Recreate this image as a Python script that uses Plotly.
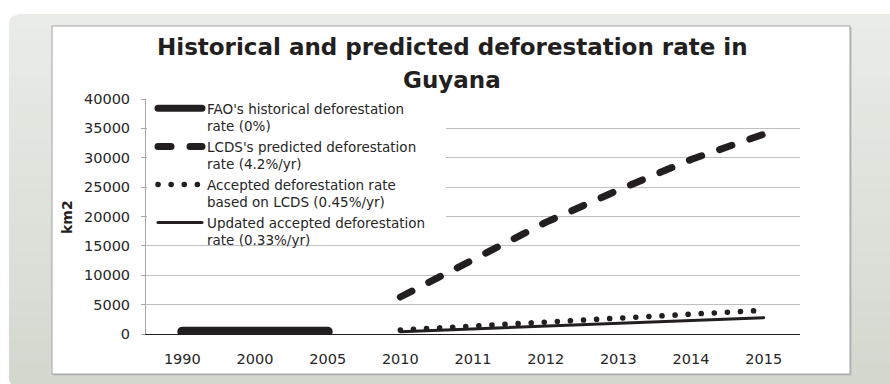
import math
import plotly.graph_objects as go

# ---------------- data ----------------
categories = ["1990", "2000", "2005", "2010", "2011", "2012", "2013", "2014", "2015"]
fao_hist = [400, 400, 400, None, None, None, None, None, None]
lcds_pred = [None, None, None, 6300, 12600, 19000, 24500, 29700, 34000]
accepted = [None, None, None, 680, 1330, 1980, 2650, 3330, 4050]
updated = [None, None, None, 380, 860, 1340, 1820, 2300, 2780]

series_names = [
    "FAO's historical deforestation<br>rate (0%)",
    "LCDS's predicted deforestation<br>rate (4.2%/yr)",
    "Accepted deforestation rate<br>based on LCDS (0.45%/yr)",
    "Updated accepted deforestation<br>rate (0.33%/yr)",
]
y_ticks = [0, 5000, 10000, 15000, 20000, 25000, 30000, 35000, 40000]
y_tick_labels = ["0", "5000", "10000", "15000", "20000", "25000", "30000", "35000", "40000"]
title_lines = ["Historical and predicted deforestation rate in", "Guyana"]
y_title = "km2"

# ---------------- layout geometry ----------------
W, H = 890, 384
L, R, T, B = 146, 90, 99, 50
PW, PH = W - L - R, H - T - B
INK = "#231f20"
FONT = "DejaVu Sans"


def px(x):
    return (x - L) / PW


def py(y):
    return (H - B - y) / PH


fig = go.Figure()
fig.add_trace(go.Scatter(x=categories, y=fao_hist, name=series_names[0], mode="lines",
                         line=dict(color=INK, width=10)))
fig.add_trace(go.Scatter(x=categories, y=lcds_pred, name=series_names[1], mode="lines",
                         line=dict(color=INK, width=7, dash="13px,19px")))
fig.add_trace(go.Scatter(x=categories, y=accepted, name=series_names[2], mode="lines",
                         line=dict(color=INK, width=5.5, dash="0.1px,13px")))
fig.add_trace(go.Scatter(x=categories, y=updated, name=series_names[3], mode="lines",
                         line=dict(color=INK, width=3)))

# background panel with vertical gradient (bands), rounded left corners
shapes = []
X0, Y0, Y1, RAD = 9, 14, 388, 10
top_c = (234, 236, 231)
bot_c = (211, 216, 207)
NB = 30


def left_x(y):
    if y < Y0 + RAD:
        d = Y0 + RAD - y
        return X0 + RAD - math.sqrt(max(RAD * RAD - d * d, 0))
    if y > Y1 - RAD:
        d = y - (Y1 - RAD)
        return X0 + RAD - math.sqrt(max(RAD * RAD - d * d, 0))
    return X0


for i in range(NB):
    ya = Y0 + (Y1 - Y0) * i / NB
    yb = Y0 + (Y1 - Y0) * (i + 1) / NB + 0.6
    t = i / (NB - 1)
    c = tuple(round(top_c[k] + (bot_c[k] - top_c[k]) * t) for k in range(3))
    pts = []
    steps = 6
    for s in range(steps + 1):
        yy = ya + (yb - ya) * s / steps
        pts.append((left_x(yy), yy))
    path = "M %f,%f " % (px(W + 5), py(ya))
    for (xx, yy) in pts:
        path += "L %f,%f " % (px(xx), py(yy))
    path += "L %f,%f Z" % (px(W + 5), py(yb))
    shapes.append(dict(type="path", xref="paper", yref="paper", path=path,
                       fillcolor="rgb(%d,%d,%d)" % c, line=dict(width=0), layer="below"))

# chart box shadow + box
shapes.append(dict(type="rect", xref="paper", yref="paper",
                   x0=px(53.5), x1=px(851.5), y0=py(375.5), y1=py(27.5),
                   fillcolor="#b9bcb7", line=dict(width=0), layer="below"))
shapes.append(dict(type="rect", xref="paper", yref="paper",
                   x0=px(52), x1=px(850), y0=py(374), y1=py(26),
                   fillcolor="white", line=dict(color="#a3a3a3", width=1), layer="below"))
# white backing behind the legend (hides gridlines there)
shapes.append(dict(type="rect", xref="paper", yref="paper",
                   x0=px(147), x1=px(446), y0=py(238), y1=py(100.5),
                   fillcolor="white", line=dict(width=0), layer="above"))

annotations = [
    dict(text="<b>%s</b>" % title_lines[0], xref="paper", yref="paper", x=px(452), y=py(47),
         xanchor="center", yanchor="middle", showarrow=False,
         font=dict(family=FONT, size=23, color=INK)),
    dict(text="<b>%s</b>" % title_lines[1], xref="paper", yref="paper", x=px(452), y=py(80),
         xanchor="center", yanchor="middle", showarrow=False,
         font=dict(family=FONT, size=23, color=INK)),
    dict(text="<b>%s</b>" % y_title, xref="paper", yref="paper", x=px(67), y=py(217),
         xanchor="center", yanchor="middle", showarrow=False, textangle=-90,
         font=dict(family=FONT, size=14, color=INK)),
]

fig.update_layout(
    width=W, height=H,
    margin=dict(l=L, r=R, t=T, b=B, pad=0),
    paper_bgcolor="white",
    plot_bgcolor="rgba(0,0,0,0)",
    font=dict(family=FONT, size=14.5, color="#262626"),
    shapes=shapes,
    annotations=annotations,
    showlegend=True,
    legend=dict(x=px(153), y=py(93), xanchor="left", yanchor="top",
                bgcolor="rgba(0,0,0,0)",
                borderwidth=0, valign="top", itemwidth=44, tracegroupgap=0,
                font=dict(family=FONT, size=13.5, color="#262626")),
    xaxis=dict(type="category", categoryorder="array", categoryarray=categories,
               range=[-0.5, len(categories) - 0.5], showgrid=False,
               showline=True, linecolor=INK, linewidth=1, ticks="",
               ticklabelstandoff=12, tickfont=dict(size=14.5), fixedrange=True),
    yaxis=dict(range=[0, 40000], tickvals=y_ticks, ticktext=y_tick_labels,
               showgrid=True, gridcolor="#c0c0c0",
               gridwidth=1, showline=True, linecolor="#a6a6a6", linewidth=1,
               ticks="outside", ticklen=4, tickcolor="#a6a6a6", zeroline=False,
               tickfont=dict(size=14.5), ticklabelstandoff=8, fixedrange=True),
)

post = """
document.querySelectorAll('path.js-line, .legendlines path').forEach(function(p){
  p.style.strokeLinecap='round'; p.style.strokeLinejoin='round';
});
document.querySelectorAll('.legendlines path').forEach(function(p){
  var w = parseFloat(p.style.strokeWidth);
  if (w > 7) { p.style.strokeWidth = '7px'; }
});
"""
fig.write_html("out.html", post_script=post, config={"displayModeBar": False})
